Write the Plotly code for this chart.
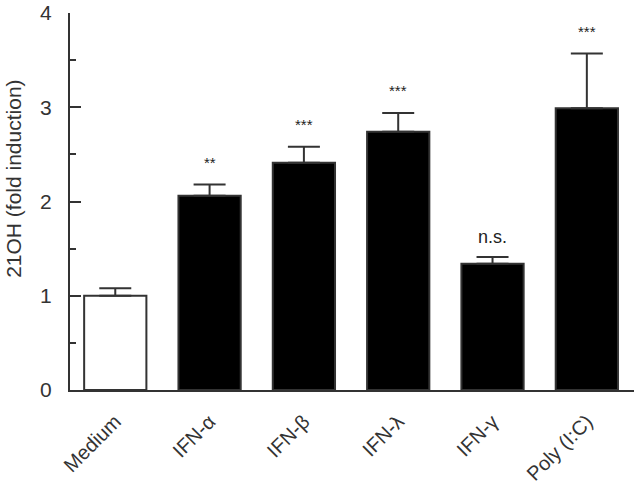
import plotly.graph_objects as go

categories = ["Medium", "IFN-α", "IFN-β", "IFN-λ", "IFN-γ", "Poly (I:C)"]
values = [1.0, 2.06, 2.41, 2.74, 1.34, 2.99]
errors = [0.08, 0.12, 0.17, 0.20, 0.07, 0.58]
significance = ["", "**", "***", "***", "n.s.", "***"]
fill_colors = ["white", "black", "black", "black", "black", "black"]
y_title = "21OH (fold induction)"

fig = go.Figure()
fig.add_trace(go.Bar(
    x=categories, y=values,
    marker=dict(color=fill_colors, line=dict(color="#333333", width=2)),
    width=0.66,
    error_y=dict(type="data", symmetric=False, array=errors,
                 arrayminus=[0] * len(errors), color="#333333",
                 thickness=2, width=16),
))

for cat, v, e, s in zip(categories, values, errors, significance):
    if not s:
        continue
    fig.add_annotation(
        x=cat, y=v + e, text=s, showarrow=False, yanchor="bottom",
        yshift=12 if s != "n.s." else 8,
        font=dict(family="Liberation Sans, Arial", size=15 if s != "n.s." else 18, color="#222"),
    )

fig.add_annotation(
    xref="paper", yref="paper", x=-0.0993, y=0.56, text=y_title,
    textangle=-90, showarrow=False, xanchor="center", yanchor="middle",
    font=dict(family="Liberation Sans, Arial", size=21, color="#333333"),
)

fig.update_layout(
    width=634, height=490,
    margin=dict(l=70, r=0, t=13, b=100, autoexpand=False),
    plot_bgcolor="white", paper_bgcolor="white",
    showlegend=False,
    font=dict(family="Liberation Sans, Arial", color="#333333"),
    bargap=0.34,
)
fig.update_yaxes(
    range=[0, 4], dtick=1, showline=True, linecolor="#333333", linewidth=2,
    ticks="inside", ticklen=11, tickwidth=2, tickcolor="#333333",
    minor=dict(dtick=0.5, ticks="inside", ticklen=6, tickwidth=2, tickcolor="#333333"),
    showgrid=False, zeroline=False, automargin=False,
    tickfont=dict(size=21, color="#333333"), ticklabelstandoff=12,
)
fig.update_xaxes(
    range=[-0.48, 5.5], showline=True, linecolor="#333333", linewidth=2,
    ticks="", tickangle=-45, tickfont=dict(size=20, color="#333333"),
    ticklabelstandoff=10,
    showgrid=False, automargin=False,
)

fig.write_html("out.html", config={"displayModeBar": False},
               post_script="document.body.style.margin='0';")
